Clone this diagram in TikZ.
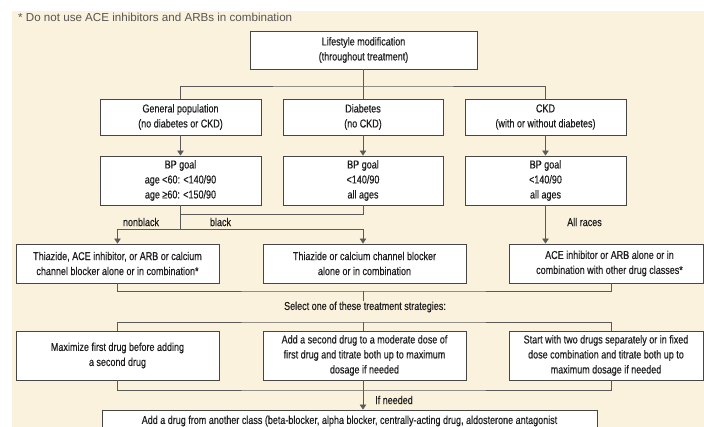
\documentclass[tikz,border=0pt]{standalone}
\usepackage{fontspec}
\setmainfont{Liberation Sans}
\newfontfamily\condf[FakeStretch=0.79,FakeBold=0.4]{Liberation Sans}
\usetikzlibrary{arrows.meta}
\definecolor{bgc}{RGB}{250,242,221}
\definecolor{boxc}{RGB}{70,70,70}
\definecolor{linec}{RGB}{90,90,90}
\definecolor{txtc}{RGB}{30,30,30}
\definecolor{notec}{RGB}{85,85,85}
\tikzset{
  box/.style={draw=boxc, fill=white, line width=0.9pt, align=center,
    font=\condf\fontsize{11.4}{15}\selectfont, text=txtc, inner sep=0pt},
  txt/.style={align=center, font=\condf\fontsize{11.4}{15}\selectfont, text=txtc, inner sep=0pt},
  conn/.style={draw=linec, line width=0.8pt},
  arr/.style={conn, -{Triangle[width=6.5pt,length=5pt]}},
  lbl/.style={font=\condf\fontsize{11.4}{13}\selectfont, text=txtc, inner sep=0pt}
}
\begin{document}
\begin{tikzpicture}[x=1pt,y=-1pt]
\useasboundingbox (0,0) rectangle (704,427);
\fill[white] (0,0) rectangle (704,427);
\fill[bgc] (12,11) rectangle (704,427);
\node[anchor=west, font=\fontsize{11.6}{13}\selectfont, text=notec, inner sep=0pt] (note) at (18,17) {* Do not use ACE inhibitors and ARBs in combination};

% row 1
\node[box, minimum width=227, minimum height=38] (life) at (363.5,50) {Lifestyle modification\\(throughout treatment)};
% row 2
\node[box, minimum width=161, minimum height=36] (gen) at (180.5,117) {General population\\(no diabetes or CKD)};
\node[box, minimum width=160, minimum height=36] (dia) at (363,117) {Diabetes\\(no CKD)};
\node[box, minimum width=161, minimum height=36] (ckd) at (545.5,117) {CKD\\(with or without diabetes)};
% row 3
\node[box, minimum width=161, minimum height=49] (bp1) at (180.5,180.5) {BP goal\\age <60: <140/90\\age ≥60: <150/90};
\node[box, minimum width=160, minimum height=49] (bp2) at (363,180.5) {BP goal\\<140/90\\all ages};
\node[box, minimum width=161, minimum height=49] (bp3) at (545.5,180.5) {BP goal\\<140/90\\all ages};
% row 4
\node[box, minimum width=203, minimum height=39] (t1) at (117.5,263.5) {Thiazide, ACE inhibitor, or ARB or calcium\\channel blocker alone or in combination*};
\node[box, minimum width=203, minimum height=39] (t2) at (364.5,263.5) {Thiazide or calcium channel blocker\\alone or in combination};
\node[box, minimum width=194, minimum height=39] (t3) at (606,263.5) {};
\node[txt] (t3t) at (609.5,263.5) {ACE inhibitor or ARB alone or in\\combination with other drug classes*};
% select
\node[lbl] (sel) at (365,307) {Select one of these treatment strategies:};
% row 5
\node[box, minimum width=203, minimum height=49] (s1) at (117.5,355.5) {Maximize first drug before adding\\a second drug};
\node[box, minimum width=203, minimum height=49] (s2) at (364.5,355.5) {Add a second drug to a moderate dose of\\first drug and titrate both up to maximum\\dosage if needed};
\node[box, minimum width=194, minimum height=49] (s3) at (606,355.5) {Start with two drugs separately or in fixed\\dose combination and titrate both up to\\maximum dosage if needed};
% last
\node[box, minimum width=495, minimum height=22] (last) at (349.5,421) {Add a drug from another class (beta-blocker, alpha blocker, centrally-acting drug, aldosterone antagonist};

% connectors
\coordinate (j1) at (363.5,86);
\draw[conn] (life.south) -- (j1);
\draw[conn] (gen.north) |- (j1) -| (ckd.north);
\draw[conn] (dia.north) -- (dia.north |- j1);

\draw[arr] (gen.south) -- (bp1.north);
\draw[arr] (dia.south) -- (bp2.north);
\draw[arr] (ckd.south) -- (bp3.north);

\coordinate (k1) at (180.5,214);
\coordinate (k2) at (180.5,229);
\draw[conn] (bp2.south) |- (k1);
\draw[conn] (bp1.south) -- (k2);
\draw[arr] (k2) -| (t1.north);
\draw[arr] (k2) -| ([xshift=-1.5pt]t2.north);
\draw[arr] (bp3.south) -- (bp3.south |- t3.north);
\node[lbl] (nb) at (141,222) {nonblack};
\node[lbl] (bl) at (220.5,222) {black};
\node[lbl] (ar) at (584.5,222) {All races};

\coordinate (m1) at (363,291);
\coordinate (m3) at (611,283);
\draw[conn] (t1.south) |- (m1) -| (m3);
\draw[conn] (m1) -- (sel.north -| m1);

\coordinate (n1) at (363,322);
\coordinate (n3) at (611,331);
\draw[conn] (s1.north) |- (n1) -| (n3);
\draw[conn] (n1) -- (s2.north -| n1);

\coordinate (p1) at (363,390);
\coordinate (p3) at (611,380);
\draw[conn] (s1.south) |- (p1) -| (p3);
\draw[arr] (s2.south -| p1) -- (last.north -| p1);
\node[lbl, anchor=west] (ifn) at (375,400) {If needed};
\end{tikzpicture}
\end{document}
